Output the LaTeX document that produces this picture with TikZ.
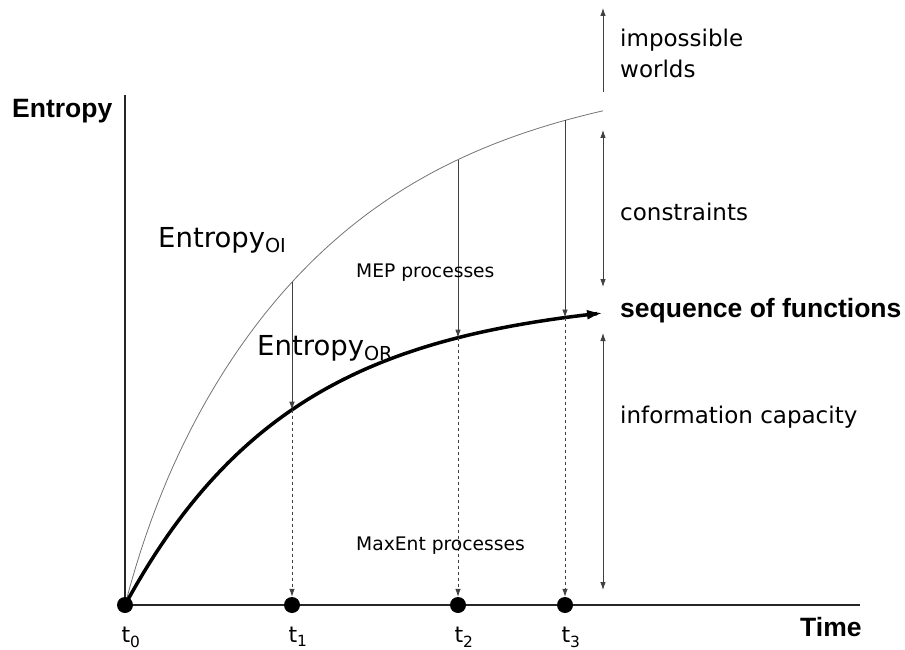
\documentclass[tikz,border=0pt]{standalone}
\usepackage{fontspec}
\setmainfont{DejaVu Sans}
\newfontfamily\headfont{Liberation Sans}
\usetikzlibrary{positioning,arrows.meta}
\tikzset{
  dot/.style={circle,fill=black,minimum size=16pt,inner sep=0},
  lab/.style={anchor=base west,inner sep=0,font=\fontsize{23}{28}\selectfont},
  proc/.style={anchor=base west,inner sep=0,font=\fontsize{18.7}{22}\selectfont},
  big/.style={anchor=base west,inner sep=0,font=\fontsize{27.5}{32}\selectfont},
  head/.style={anchor=base west,inner sep=0,font=\headfont\bfseries\fontsize{26.5}{30}\selectfont},
  tip/.style={-{Latex[length=8pt,width=5.5pt]}},
  twotip/.style={{Latex[length=8pt,width=5.5pt]}-{Latex[length=8pt,width=5.5pt]}}
}
\begin{document}
\begin{tikzpicture}[x=1pt,y=-1pt,
  declare function={entoi(\d)=605-500*(1-exp(-\d/200))-40*(1-exp(-\d/30));
                    entor(\d)=605-310*(1-exp(-\d/168));}]
\useasboundingbox (0,0) rectangle (905,650);
\coordinate (ytop) at (125,95);
\coordinate (xend) at (860,605);
\foreach \i/\x in {0/125,1/292,2/458,3/565}
  \coordinate (p\i) at (\x,605);
\draw[line width=1.2pt,black!85] (ytop) -- (p0) -- (xend);
\foreach \i/\x in {1/292,2/458,3/565} {
  \coordinate (u\i) at ({\x},{entoi(\x-125)});
  \coordinate (l\i) at ({\x},{entor(\x-125)});
}
\draw[black!55,line width=0.8pt] plot[domain=0:478,samples=90] ({125+\x},{entoi(\x)});
\draw[line width=3.5pt,-{Latex[length=16pt,width=10pt]}] plot[domain=0:478,samples=80] ({125+\x},{entor(\x)});
\foreach \i in {0,1,2,3}
  \node[dot] (t\i) at (p\i) {};
\foreach \i in {0,1,2,3}
  \node[below=14pt of t\i,xshift=6pt,inner sep=0,font=\fontsize{22}{26}\selectfont] (tl\i) {t\textsubscript{\i}};
\foreach \i in {1,2,3} {
  \draw[tip,line width=0.8pt,black!75] (u\i) -- (l\i);
  \draw[tip,dashed,line width=0.8pt,black!75] (l\i) -- (t\i);
}
\coordinate (iw1) at (603,92);
\coordinate (iw2) at (603,8);
\coordinate (c1) at (603,130);
\coordinate (c2) at (603,287);
\coordinate (ic1) at (603,333);
\coordinate (ic2) at (603,590);
\draw[tip,line width=0.8pt,black!75] (iw1) -- (iw2);
\draw[twotip,line width=0.8pt,black!75] (c1) -- (c2);
\draw[twotip,line width=0.8pt,black!75] (ic1) -- (ic2);
\node[head] (ylab) at (12,118) {Entropy};
\node[head] (xlab) at (800,636) {Time};
\node[head] (seq) at (620,317) {sequence of functions};
\node[lab] (imp) at (620,47) {impossible};
\node[lab] (worlds) at (620,78) {worlds};
\node[lab] (cons) at (620,220) {constraints};
\node[lab] (info) at (620,423) {information capacity};
\node[big] (eoi) at (158,247) {Entropy\textsubscript{OI}};
\node[big] (eor) at (257,355) {Entropy\textsubscript{OR}};
\node[proc] (mep) at (356,277) {MEP processes};
\node[proc] (maxent) at (356,550) {MaxEnt processes};
\end{tikzpicture}
\end{document}
